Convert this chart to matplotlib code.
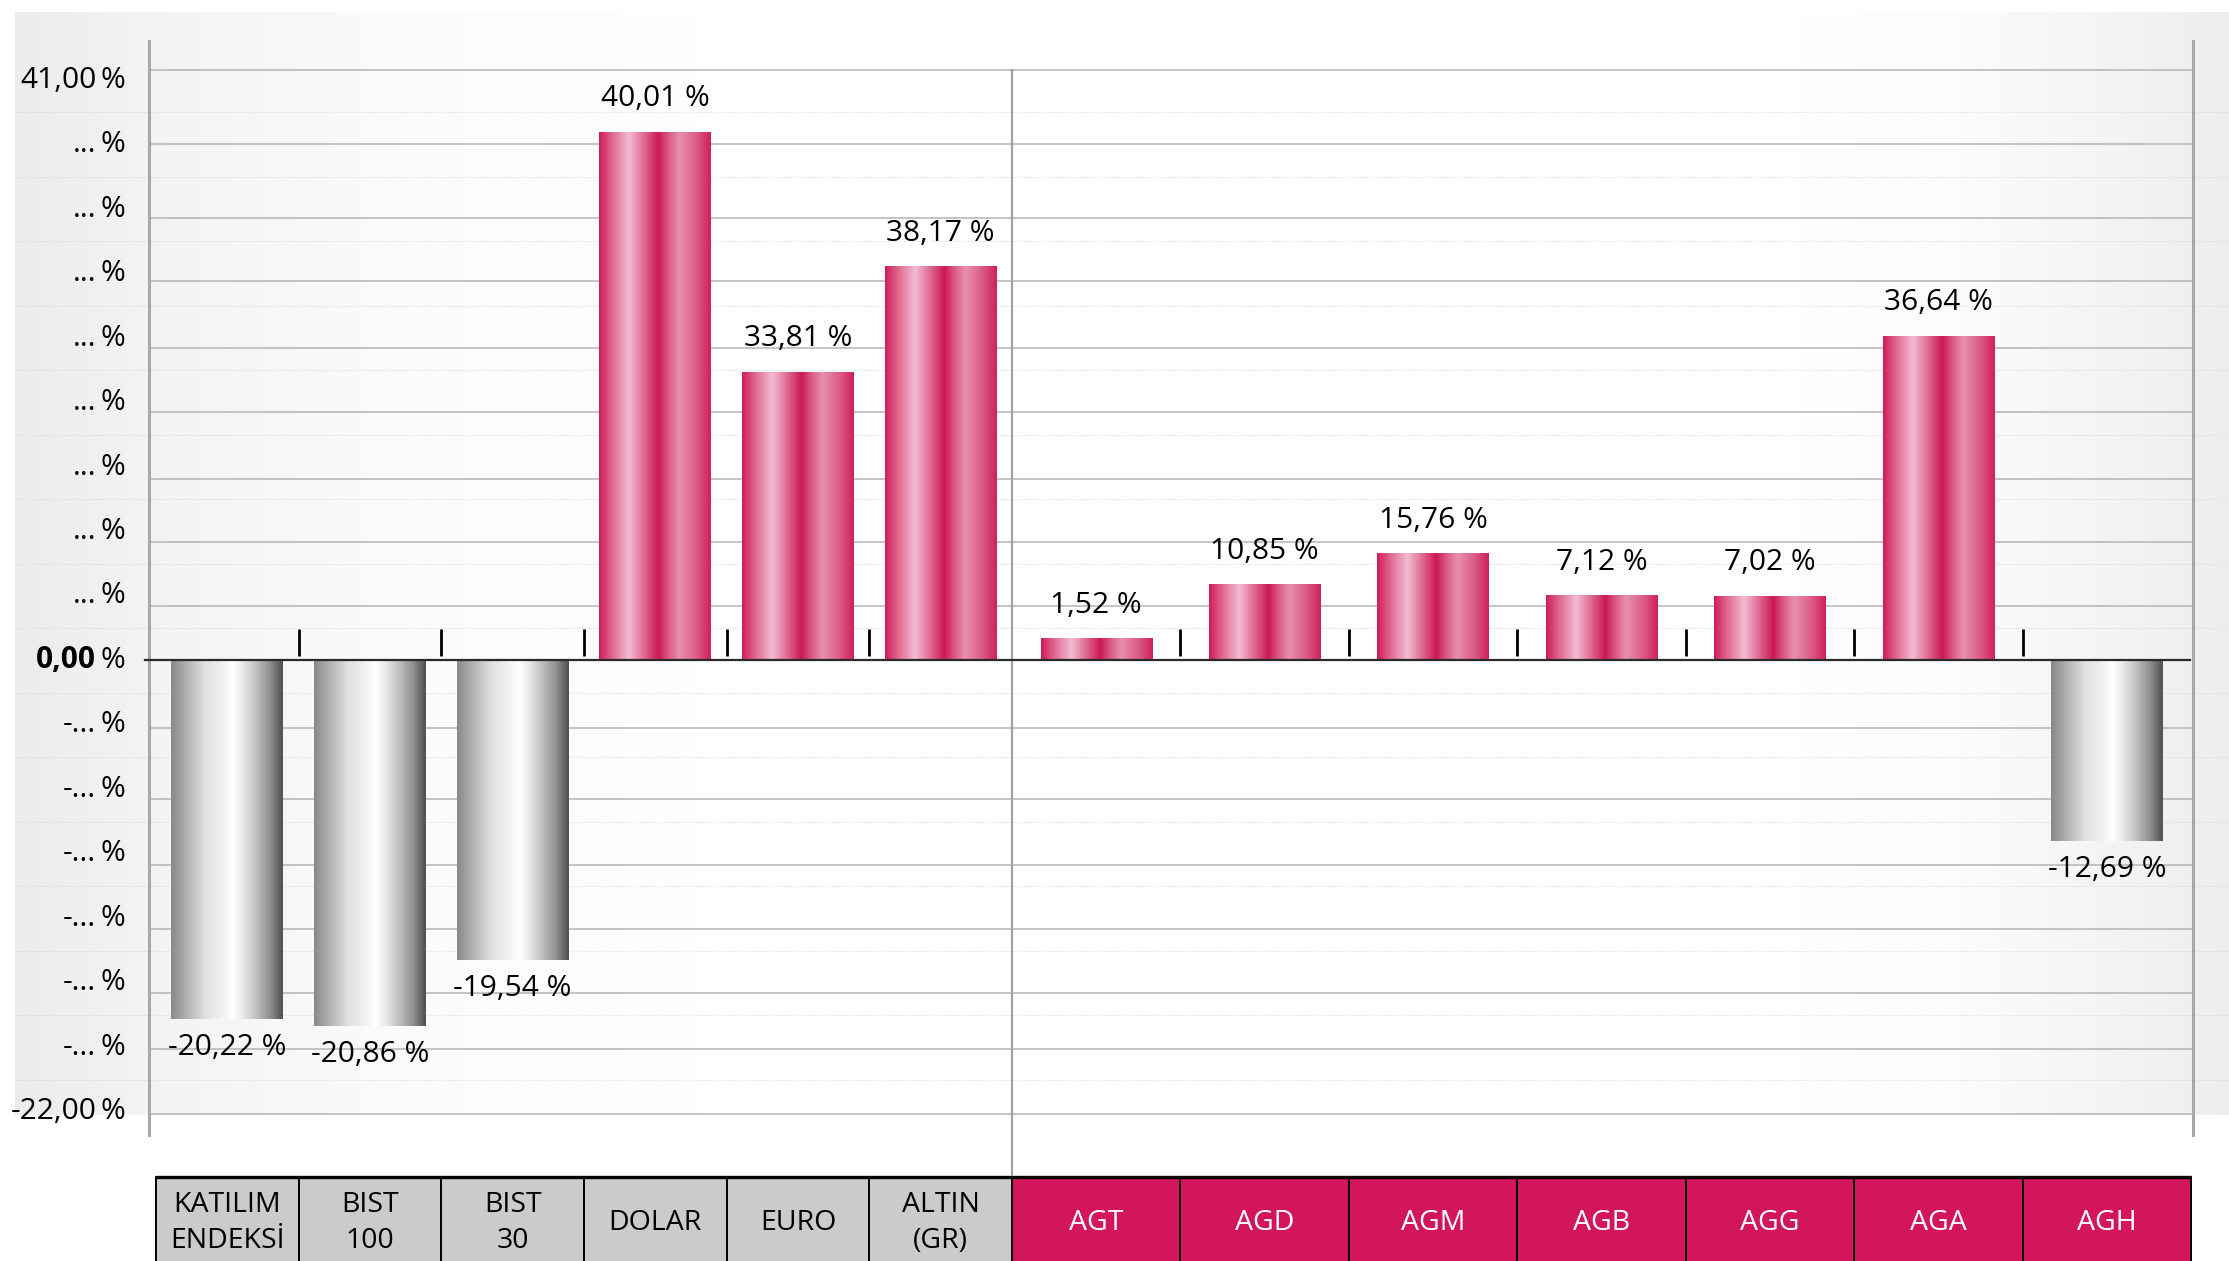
import matplotlib
matplotlib.use("Agg")
import matplotlib.pyplot as plt
import numpy as np
from matplotlib import font_manager
from matplotlib.colors import LinearSegmentedColormap
from matplotlib.patches import Rectangle
from matplotlib.lines import Line2D
from matplotlib.transforms import blended_transform_factory

# ── data ──────────────────────────────────────────────────────────────────────
LEFT_NAMES = ["KATILIM\nENDEKSİ", "BIST\n100", "BIST\n30", "DOLAR", "EURO", "ALTIN\n(GR)"]
LEFT_VALUES = [-20.22, -20.86, -19.54, 40.01, 33.81, 38.17]
# the value axis of the original is not linear: bar lengths read off in axis steps
LEFT_HEIGHTS = [-5.56, -5.67, -4.64, 8.18, 4.46, 6.10]

RIGHT_NAMES = ["AGT", "AGD", "AGM", "AGB", "AGG", "AGA", "AGH"]
RIGHT_VALUES = [1.52, 10.85, 15.76, 7.12, 7.02, 36.64, -12.69]
RIGHT_HEIGHTS = [0.33, 1.17, 1.645, 1.0, 0.99, 5.02, -2.80]

Y_STEPS = list(range(-7, 10))
Y_LABELS = ["-22,00"] + ["-..."] * 6 + ["0,00"] + ["..."] * 8 + ["41,00"]
GRID_SOLID = [9.16, 8.01, 6.86, 5.88, 4.84, 3.85, 2.81, 1.84, 0.84,
              -1.05, -2.15, -3.17, -4.16, -5.16, -6.02, -7.03]

# ── look ──────────────────────────────────────────────────────────────────────
W, H = 2229, 1261
YMIN, YMAX = -7.357, 9.605
TABLE_TOP, TABLE_BOTTOM, TABLE_TEXT_Y = -8.008, -10.0, -8.72
GRAY_CELL = "#cbcbcb"
CRIMSON = "#d3165c"

PINK = LinearSegmentedColormap.from_list("pink", [
    (0.00, "#d01c5c"), (0.12, "#e06a90"), (0.27, "#f3bbd5"), (0.42, "#dc6088"),
    (0.53, "#cc1858"), (0.63, "#dc6088"), (0.72, "#e890ab"), (0.86, "#dc6088"),
    (1.00, "#d0205e")])
GRAY = LinearSegmentedColormap.from_list("gray", [
    (0.00, "#888888"), (0.10, "#a6a6a6"), (0.30, "#e0e0e0"), (0.45, "#f0f0f0"),
    (0.55, "#ffffff"), (0.62, "#f0f0f0"), (0.75, "#c4c4c4"), (0.88, "#939393"),
    (1.00, "#505050")])
GRAD = np.linspace(0, 1, 256)[None, :]


def pick_font(*names):
    for n in names:
        try:
            font_manager.findfont(font_manager.FontProperties(family=n),
                                  fallback_to_default=False)
            return n
        except ValueError:
            pass
    return "DejaVu Sans"


TEXT_FONT = pick_font("Open Sans", "Noto Sans")
TABLE_FONT = pick_font("Liberation Sans Narrow", "Open Sans")
TABLE_SIZE = 23 if TABLE_FONT == "Liberation Sans Narrow" else 20.5
plt.rcParams["font.family"] = [TEXT_FONT, "DejaVu Sans"]


def fx(px):
    return px / W


def fy(py):
    return 1 - py / H


fig = plt.figure(figsize=(W / 100, H / 100), dpi=100)

# background gradient panel
bg = fig.add_axes([0, 0, 1, 1], zorder=0)
xs = np.arange(15, W)
shade = np.interp(xs, [15, 150, 400, 700, 1800, 1950, 2190, 2229],
                  [0.925, 0.955, 0.985, 1.0, 1.0, 0.99, 0.94, 0.93])
bg.imshow(np.repeat(shade[None, :, None], 3, axis=2), extent=(15, W, 1115, 12),
          aspect="auto", interpolation="bilinear")
bg.set_xlim(0, W)
bg.set_ylim(H, 0)
bg.axis("off")

# value axis frame, grid and labels
ax = fig.add_axes([fx(149), fy(1135), fx(2193) - fx(149), fy(41) - fy(1135)], zorder=1)
ax.patch.set_alpha(0)
ax.set_xlim(149, 2193)
ax.set_ylim(YMIN, YMAX)
ax.set_xticks([])
ax.set_yticks([])
for side in ("top", "bottom"):
    ax.spines[side].set_visible(False)
for side in ("left", "right"):
    ax.spines[side].set_color("#a8a8a8")
    ax.spines[side].set_linewidth(2.2)

for k in Y_STEPS[:-1]:
    ax.plot([15, W], [k + 0.5, k + 0.5], color="#d6d6d6", lw=0.7,
            ls=(0, (1, 1.5)), clip_on=False, zorder=1)
ax.hlines(GRID_SOLID, 149, 2193, color="#b4b4b4", lw=1.1, zorder=1.5)

for k, lab in zip(Y_STEPS, Y_LABELS):
    ax.annotate("%", (0, k), xycoords=("axes fraction", "data"), xytext=(-17, 0),
                textcoords="offset points", ha="right", va="center", fontsize=21.5)
    ax.annotate(lab, (0, k), xycoords=("axes fraction", "data"), xytext=(-38, 0),
                textcoords="offset points", ha="right", va="center", fontsize=21.5,
                fontweight="bold" if k == 0 else "normal")


def draw_group(x0, x1, names, values, heights, width, cell_color, text_color, n_ticks):
    a = fig.add_axes([fx(x0), fy(1135), fx(x1) - fx(x0), fy(41) - fy(1135)], zorder=2)
    a.patch.set_alpha(0)
    a.axis("off")
    xpos = np.arange(len(names))
    bars = a.bar(xpos, heights, width=width, color="none", edgecolor="none")
    for rect, v in zip(bars, values):
        bx, bw = rect.get_x(), rect.get_width()
        by, bh = rect.get_y(), rect.get_height()
        a.imshow(GRAD, cmap=PINK if v >= 0 else GRAY,
                 extent=(bx, bx + bw, min(by, by + bh), max(by, by + bh)),
                 aspect="auto", interpolation="bicubic", zorder=2)
        label = f"{v:.2f}".replace(".", ",") + " %"
        if v >= 0:
            a.annotate(label, (bx + bw / 2, by + bh), xytext=(0, 14),
                       textcoords="offset points", ha="center", va="bottom",
                       fontsize=21.5)
        else:
            a.annotate(label, (bx + bw / 2, by + bh), xytext=(0, -10),
                       textcoords="offset points", ha="center", va="top",
                       fontsize=21.5)
    # small separators above the zero line
    a.vlines(xpos[:n_ticks] + 0.5, 0.07, 0.49, color="black", lw=2, zorder=3)
    # category table
    for i, name in enumerate(names):
        a.add_patch(Rectangle((i - 0.5, TABLE_BOTTOM), 1, TABLE_TOP - TABLE_BOTTOM,
                              facecolor=cell_color, edgecolor="black", lw=1.4,
                              clip_on=False, zorder=3))
        a.text(i, TABLE_TEXT_Y, name, ha="center", va="center", color=text_color,
               fontsize=TABLE_SIZE, family=[TABLE_FONT, "DejaVu Sans"],
               linespacing=1.35, clip_on=False, zorder=4)
    a.plot([-0.5, len(names) - 0.5], [TABLE_TOP, TABLE_TOP], color="black", lw=2.4,
           clip_on=False, solid_capstyle="butt", zorder=5)
    a.set_xlim(-0.5, len(names) - 0.5)
    a.set_ylim(YMIN, YMAX)
    return a


axL = draw_group(156, 1012, LEFT_NAMES, LEFT_VALUES, LEFT_HEIGHTS, 0.785,
                 GRAY_CELL, "black", len(LEFT_NAMES))
axR = draw_group(1012, 2191, RIGHT_NAMES, RIGHT_VALUES, RIGHT_HEIGHTS, 0.66,
                 CRIMSON, "white", len(RIGHT_NAMES) - 1)

# divider between the two groups
axR.plot([-0.5, -0.5], [GRID_SOLID[0], TABLE_TOP], color="#a0a0a0", lw=1.5,
         clip_on=False, zorder=1)

# zero line on top of everything
zero_tr = blended_transform_factory(fig.transFigure, ax.transData)
fig.add_artist(Line2D([fx(145), fx(2190)], [0, 0], transform=zero_tr,
                      color="#2a2a2a", lw=1.6, zorder=10))

fig.savefig("out.png", dpi=100)
